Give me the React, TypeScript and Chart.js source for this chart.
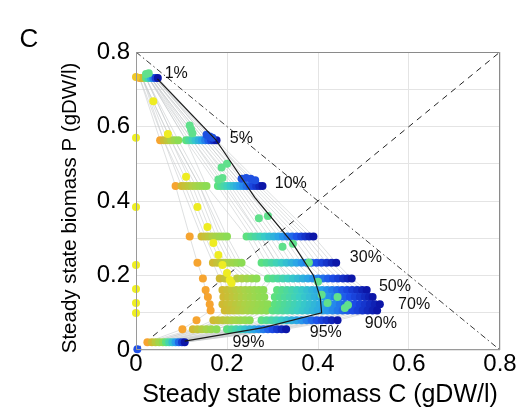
import React, { useEffect, useRef } from "react";
import { Chart, registerables } from "chart.js";
Chart.register(...registerables);

const PANEL_LABEL = "C";
const X_TITLE = "Steady state biomass C (gDW/l)";
const Y_TITLE = "Steady state biomass P (gDW/l)";
const X_TICK_VALUES = [0, 0.2, 0.4, 0.6, 0.8];
const X_TICK_LABELS = ["0", "0.2", "0.4", "0.6", "0.8"];
const Y_TICK_VALUES = [0, 0.2, 0.4, 0.6, 0.8];
const Y_TICK_LABELS = ["0", "0.2", "0.4", "0.6", "0.8"];

// rows of steady states (top to bottom)
const ROW_Y = [0.73, 0.563, 0.44, 0.305, 0.234, 0.192, 0.161, 0.142, 0.123, 0.106, 0.08, 0.056, 0.021];
const ROW_WARM_X = [
  [0.008, 0.014],
  [0.053, 0.061, 0.069, 0.077, 0.085, 0.093],
  [0.087, 0.1, 0.108, 0.116, 0.124, 0.132, 0.14, 0.148, 0.155],
  [0.118, 0.144, 0.152, 0.16, 0.168, 0.176, 0.184, 0.192, 0.2],
  [0.135, 0.169, 0.178, 0.187, 0.196, 0.205, 0.214, 0.223, 0.232],
  [0.147, 0.184, 0.195, 0.222, 0.233, 0.244, 0.255, 0.265],
  [0.153, 0.19, 0.2, 0.21, 0.22, 0.23, 0.24, 0.25, 0.26, 0.27, 0.28],
  [0.158, 0.192, 0.202, 0.212, 0.222, 0.232, 0.242, 0.252, 0.262, 0.272, 0.282],
  [0.162, 0.19, 0.2, 0.21, 0.22, 0.23, 0.24, 0.25, 0.26, 0.27, 0.28, 0.29],
  [0.164, 0.195, 0.205, 0.215, 0.225, 0.235, 0.245, 0.255, 0.265, 0.276, 0.287],
  [0.133, 0.17, 0.18, 0.19, 0.2, 0.21, 0.22, 0.23, 0.24, 0.25],
  [0.102, 0.125, 0.135, 0.145, 0.155, 0.165, 0.177],
  [0.025, 0.035, 0.043, 0.051, 0.059],
];
const ROW_COOL_X = [
  [0.022, 0.028, 0.033, 0.038, 0.043, 0.048],
  [0.11, 0.117, 0.124, 0.131, 0.138, 0.145, 0.152, 0.159, 0.165, 0.171, 0.177],
  [0.18, 0.187, 0.194, 0.201, 0.208, 0.215, 0.222, 0.229, 0.236, 0.243, 0.25, 0.257, 0.264, 0.271, 0.278],
  [0.243, 0.253, 0.263, 0.273, 0.283, 0.293, 0.303, 0.313, 0.323, 0.333, 0.343, 0.353, 0.363, 0.372, 0.381, 0.39],
  [0.276, 0.287, 0.298, 0.309, 0.32, 0.331, 0.342, 0.353, 0.364, 0.375, 0.386, 0.397, 0.408, 0.419, 0.43, 0.44],
  [0.29, 0.301, 0.312, 0.323, 0.334, 0.345, 0.356, 0.367, 0.378, 0.389, 0.4, 0.411, 0.422, 0.433, 0.444, 0.455, 0.465, 0.474],
  [0.31, 0.321, 0.332, 0.343, 0.354, 0.365, 0.376, 0.387, 0.398, 0.409, 0.42, 0.431, 0.442, 0.453, 0.464, 0.475, 0.486, 0.497, 0.507],
  [0.305, 0.316, 0.327, 0.338, 0.349, 0.36, 0.371, 0.382, 0.393, 0.404, 0.415, 0.426, 0.437, 0.448, 0.459, 0.47, 0.481, 0.492, 0.503, 0.512, 0.52],
  [0.305, 0.316, 0.327, 0.338, 0.349, 0.36, 0.371, 0.382, 0.393, 0.404, 0.415, 0.426, 0.437, 0.448, 0.459, 0.47, 0.481, 0.492, 0.503, 0.514, 0.525, 0.536],
  [0.3, 0.311, 0.322, 0.333, 0.344, 0.355, 0.366, 0.377, 0.388, 0.399, 0.41, 0.421, 0.432, 0.443, 0.454, 0.465, 0.476, 0.487, 0.498, 0.509, 0.52, 0.53],
  [0.276, 0.287, 0.298, 0.309, 0.32, 0.331, 0.342, 0.353, 0.364, 0.375, 0.386, 0.397, 0.408, 0.419, 0.43, 0.443],
  [0.2, 0.21, 0.22, 0.23, 0.24, 0.25, 0.26, 0.27, 0.28, 0.29, 0.3, 0.31, 0.32, 0.33],
  [0.066, 0.073, 0.08, 0.087, 0.094, 0.101, 0.107],
];

const PCT_LABELS = ["1%", "5%", "10%", "30%", "50%", "70%", "90%", "95%", "99%"];
const PCT_X = [0.063, 0.206, 0.305, 0.47, 0.534, 0.576, 0.503, 0.382, 0.212];
const PCT_Y = [0.741, 0.567, 0.448, 0.247, 0.169, 0.121, 0.072, 0.046, 0.019];

const AXIS_YELLOW_Y = [0.733, 0.57, 0.384, 0.228, 0.164, 0.126, 0.099];
const YELLOW_TRAIL_X = [0.038, 0.07, 0.11, 0.135, 0.157, 0.17, 0.181, 0.19, 0.2, 0.206, 0.21];
const YELLOW_TRAIL_Y = [0.668, 0.58, 0.465, 0.384, 0.33, 0.287, 0.255, 0.228, 0.207, 0.188, 0.18];
const GREEN_EXTRA_X = [0.022, 0.028, 0.118, 0.121, 0.124, 0.181, 0.19, 0.188, 0.2, 0.27, 0.29, 0.322, 0.345, 0.38, 0.4, 0.408, 0.421, 0.443, 0.466, 0.459];
const GREEN_EXTRA_Y = [0.741, 0.743, 0.603, 0.592, 0.582, 0.458, 0.462, 0.49, 0.5, 0.354, 0.36, 0.277, 0.285, 0.235, 0.183, 0.148, 0.126, 0.142, 0.121, 0.113];
const BLUE_EXTRA_X = [0.155, 0.162, 0.168, 0.232, 0.242, 0.252, 0.262];
const BLUE_EXTRA_Y = [0.578, 0.573, 0.57, 0.46, 0.462, 0.46, 0.456];
const ORIGIN_X = [0.003];
const ORIGIN_Y = [0.002];

const FRONT_X = [0.047, 0.175, 0.261, 0.342, 0.39, 0.405, 0.408, 0.28, 0.107];
const FRONT_Y = [0.728, 0.565, 0.41, 0.29, 0.2, 0.14, 0.1, 0.06, 0.024];
const DIAG_X = [0, 0.8];
const DIAG_Y = [0, 0.8];
const ANTI_X = [0, 0.8];
const ANTI_Y = [0.8, 0];

const TRAJECTORY_COUNT = 26;

const FONT = "'Liberation Sans', Arial, Helvetica, sans-serif";
const ORANGE = "rgb(246,164,48)";
const WARM: number[][] = [[208, 186, 50], [172, 210, 70], [140, 220, 84]];
const COOL: number[][] = [[92, 224, 128], [58, 206, 196], [40, 160, 235], [28, 78, 232], [12, 22, 168]];

function ramp(stops: number[][], t: number): string {
  const s = Math.max(0, Math.min(1, t)) * (stops.length - 1);
  const i = Math.min(stops.length - 2, Math.floor(s));
  const f = s - i;
  const c = stops[i].map((v, k) => Math.round(v + (stops[i + 1][k] - v) * f));
  return `rgb(${c[0]},${c[1]},${c[2]})`;
}

function tickLabel(values: number[], labels: string[], v: number): string {
  for (let i = 0; i < values.length; i++) if (Math.abs(values[i] - v) < 1e-6) return labels[i];
  return "";
}

export default function App() {
  const ref = useRef<HTMLCanvasElement | null>(null);
  useEffect(() => {
    if (!ref.current) return;
    const pts: { x: number; y: number }[] = [];
    const cols: string[] = [];
    ROW_Y.forEach((y, r) => {
      const w = ROW_WARM_X[r];
      w.forEach((x, i) => {
        pts.push({ x, y });
        cols.push(i === 0 ? ORANGE : ramp(WARM, w.length > 2 ? (i - 1) / (w.length - 2) : 0));
      });
      const c = ROW_COOL_X[r];
      c.forEach((x, i) => {
        pts.push({ x, y });
        cols.push(ramp(COOL, c.length > 1 ? i / (c.length - 1) : 0));
      });
    });
    AXIS_YELLOW_Y.forEach((y, i) => {
      pts.push({ x: 0, y });
      cols.push(i === 0 ? "rgb(240,200,40)" : "rgb(238,238,34)");
    });
    YELLOW_TRAIL_X.forEach((x, i) => { pts.push({ x, y: YELLOW_TRAIL_Y[i] }); cols.push("rgb(238,236,34)"); });
    GREEN_EXTRA_X.forEach((x, i) => { pts.push({ x, y: GREEN_EXTRA_Y[i] }); cols.push("rgb(96,224,140)"); });
    BLUE_EXTRA_X.forEach((x, i) => { pts.push({ x, y: BLUE_EXTRA_Y[i] }); cols.push("rgb(30,80,225)"); });
    ORIGIN_X.forEach((x, i) => { pts.push({ x, y: ORIGIN_Y[i] }); cols.push("rgb(32,80,230)"); });

    const rowsSorted = ROW_Y.map((_, r) => [...ROW_WARM_X[r], ...ROW_COOL_X[r]].sort((a, b) => a - b));
    const trajectories: any[] = [];
    for (let j = 0; j < TRAJECTORY_COUNT; j++) {
      const data = rowsSorted.map((xs, r) => ({
        x: xs[Math.round((j * (xs.length - 1)) / (TRAJECTORY_COUNT - 1))],
        y: ROW_Y[r],
      }));
      trajectories.push({
        type: "line",
        data,
        showLine: true,
        borderColor: "rgba(200,203,205,0.75)",
        borderWidth: 0.8,
        pointRadius: 0,
        order: 4,
      });
    }

    const overlay = {
      id: "overlay",
      afterDraw(chart: any) {
        const ctx = chart.ctx;
        const { left, right, top, bottom } = chart.chartArea;
        const xs = chart.scales.x;
        const ys = chart.scales.y;
        ctx.save();
        ctx.strokeStyle = "#8a8a8a";
        ctx.lineWidth = 1;
        ctx.beginPath();
        ctx.moveTo(left, top + 0.5);
        ctx.lineTo(right - 0.5, top + 0.5);
        ctx.lineTo(right - 0.5, bottom);
        ctx.stroke();
        ctx.strokeStyle = "#9a9a9a";
        ctx.beginPath();
        ctx.moveTo(left + 0.5, top);
        ctx.lineTo(left + 0.5, bottom - 0.5);
        ctx.lineTo(right, bottom - 0.5);
        ctx.stroke();
        ctx.fillStyle = "#111";
        ctx.font = `16px ${FONT}`;
        ctx.textAlign = "left";
        ctx.textBaseline = "middle";
        PCT_LABELS.forEach((t, i) => {
          ctx.fillText(t, xs.getPixelForValue(PCT_X[i]), ys.getPixelForValue(PCT_Y[i]));
        });
        ctx.fillStyle = "#000";
        ctx.font = `26px ${FONT}`;
        ctx.textAlign = "center";
        ctx.fillText(PANEL_LABEL, 29, 40);
        ctx.font = `25px ${FONT}`;
        ctx.fillText(X_TITLE, (left + right) / 2 + 2, 395);
        ctx.save();
        ctx.translate(70, (top + bottom) / 2 + 7);
        ctx.rotate(-Math.PI / 2);
        ctx.font = `20.5px ${FONT}`;
        ctx.fillText(Y_TITLE, 0, 0);
        ctx.restore();
        ctx.restore();
      },
    };

    const chart = new Chart(ref.current, {
      type: "scatter",
      data: {
        datasets: [
          {
            type: "line",
            data: FRONT_X.map((x, i) => ({ x, y: FRONT_Y[i] })),
            borderColor: "#1a1a1a",
            borderWidth: 1.2,
            pointRadius: 0,
            order: 0,
          } as any,
          {
            data: pts,
            backgroundColor: cols,
            borderWidth: 0,
            pointRadius: 4,
            clip: 10,
            order: 1,
          },
          {
            type: "line",
            data: DIAG_X.map((x, i) => ({ x, y: DIAG_Y[i] })),
            borderColor: "#222",
            borderWidth: 1,
            borderDash: [6, 5],
            pointRadius: 0,
            order: 2,
          } as any,
          {
            type: "line",
            data: ANTI_X.map((x, i) => ({ x, y: ANTI_Y[i] })),
            borderColor: "#222",
            borderWidth: 0.9,
            borderDash: [6, 3, 1.5, 3],
            pointRadius: 0,
            order: 3,
          } as any,
          ...trajectories,
        ],
      },
      options: {
        animation: false,
        responsive: false,
        devicePixelRatio: 1,
        layout: { padding: { top: 52, right: 23, left: 0, bottom: 0 } },
        plugins: { legend: { display: false }, tooltip: { enabled: false } },
        scales: {
          x: {
            type: "linear",
            min: 0,
            max: 0.8,
            afterBuildTicks: (s: any) => { s.ticks = X_TICK_VALUES.map((v) => ({ value: v })); },
            ticks: {
              autoSkip: false,
              maxRotation: 0,
              padding: 0,
              color: "#000",
              font: { size: 24, family: FONT },
              callback: (v: any) => tickLabel(X_TICK_VALUES, X_TICK_LABELS, Number(v)),
            },
            grid: { color: "#e4e4e4", drawTicks: false, tickLength: 0 },
            border: { display: false },
            afterFit: (s: any) => { s.height = 63; },
          },
          y: {
            type: "linear",
            min: 0,
            max: 0.8,
            ticks: {
              stepSize: 0.1,
              autoSkip: false,
              padding: 6,
              color: "#000",
              font: { size: 24, family: FONT },
              callback: (v: any) => tickLabel(Y_TICK_VALUES, Y_TICK_LABELS, Number(v)),
            },
            grid: { color: "#e4e4e4", drawTicks: false, tickLength: 0 },
            border: { display: false },
            afterFit: (s: any) => { s.width = 136; },
          },
        },
      },
      plugins: [overlay],
    } as any);
    return () => chart.destroy();
  }, []);
  return (
    <div style={{ position: "absolute", left: 0, top: 0, width: 523, height: 413, background: "#fff" }}>
      <canvas ref={ref} width={523} height={413} style={{ width: 523, height: 413 }} />
    </div>
  );
}
